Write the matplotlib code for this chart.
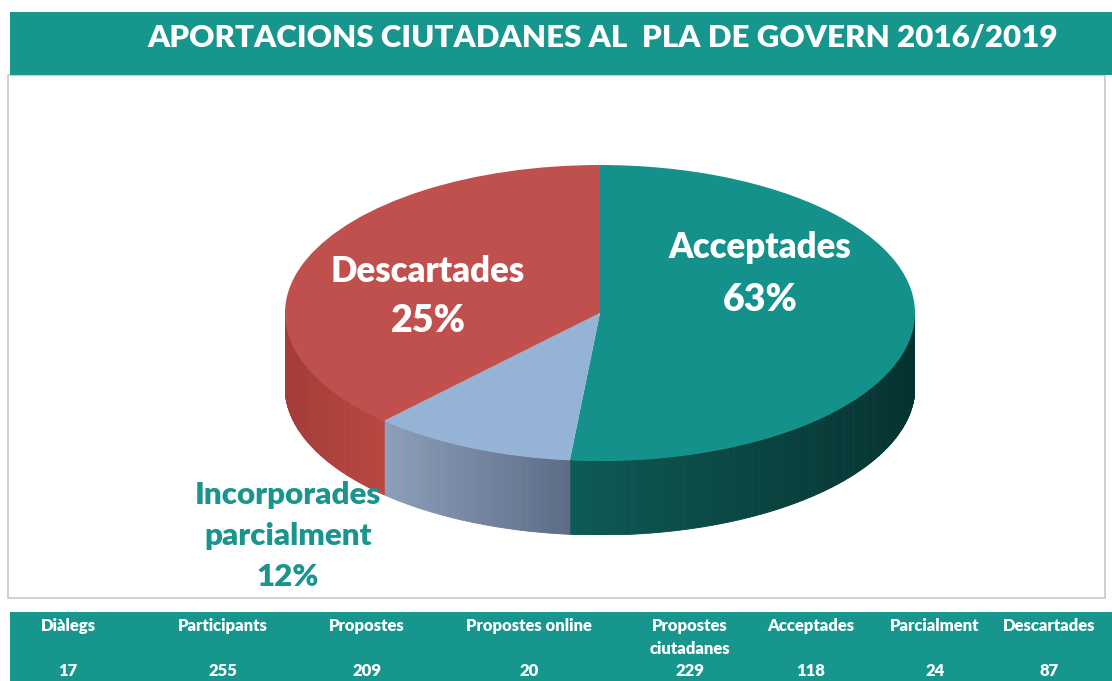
import matplotlib
matplotlib.use('Agg')
import matplotlib.pyplot as plt
import numpy as np
from matplotlib.patches import Rectangle, Polygon
from matplotlib.colors import to_rgb

# ---- data ----
title = 'APORTACIONS CIUTADANES AL  PLA DE GOVERN 2016/2019'
categories = ['Acceptades', 'Parcialment', 'Descartades']
values = [118, 24, 87]
slice_names = ['Acceptades', 'Incorporades\nparcialment', 'Descartades']
pct_labels = ['63%', '12%', '25%']
table_headers = ['Diàlegs', 'Participants', 'Propostes', 'Propostes online',
                 'Propostes\nciutadanes', 'Acceptades', 'Parcialment', 'Descartades']
table_values = [17, 255, 209, 20, 229, 118, 24, 87]

# ---- style ----
TEAL = '#17968e'
top_colors = ['#13918a', '#94b3d6', '#c0504d']
side_colors = [('#0d5a55', '#053230'), ('#8e9fba', '#5c6c86'), ('#a43c38', '#b9463f')]
FONT = 'Lato'

W, H = 1112, 681
fig = plt.figure(figsize=(W / 100, H / 100), dpi=100)
bg = fig.add_axes([0, 0, 1, 1])
bg.set_xlim(0, W)
bg.set_ylim(H, 0)
bg.axis('off')

# title bar
bg.add_patch(Rectangle((10, 12), W - 10, 63, facecolor=TEAL, edgecolor='none', zorder=1))
bg.text(603, 38, title, color='white', fontsize=22.5, fontweight='heavy', family=FONT,
        ha='center', va='center', zorder=3)
# chart area border
bg.add_patch(Rectangle((8, 75), 1097, 523, facecolor='white', edgecolor='#c8c8c8', lw=1.2, zorder=0))
# table bar
bg.add_patch(Rectangle((10, 612), W - 10, 80, facecolor=TEAL, edgecolor='none', zorder=1))
header_x = [68, 223, 367, 529, 690, 811, 935, 1049]
for x, h, v in zip(header_x, table_headers, table_values):
    bg.text(x, 618, h, color='white', fontsize=12, fontweight='heavy', family=FONT,
            ha='center', va='top', linespacing=1.5, zorder=3)
    bg.text(x, 679, str(v), color='white', fontsize=12, fontweight='heavy', family=FONT,
            ha='center', va='bottom', zorder=3)

# ---- 3D pie ----
cx0, cx1 = 285, 915
ty, by = 165, 461
depth_px = 74
ry = (by - ty) / 2
d = depth_px / ry
ax = fig.add_axes([cx0 / W, (H - by - depth_px) / H, (cx1 - cx0) / W, (by - ty + depth_px) / H])
wedges, _ = ax.pie(values, colors=top_colors, startangle=90, counterclock=False,
                   radius=1, wedgeprops=dict(linewidth=0, zorder=5))
ax.set_aspect('auto')
ax.set_xlim(-1, 1)
ax.set_ylim(-1 - d, 1)
ax.axis('off')

for w, (c0, c1) in zip(wedges, side_colors):
    t1, t2 = sorted((w.theta1, w.theta2))
    for k in (-1, 0, 1):
        lo = max(t1, -180 + 360 * k)
        hi = min(t2, 0 + 360 * k)
        if hi <= lo:
            continue
        xs_all = np.cos(np.radians([lo, hi]))
        xa, xb = xs_all.min(), xs_all.max()
        n = max(int((hi - lo) / 0.5), 2)
        angs = np.linspace(lo, hi, n + 1)
        for a, b in zip(angs[:-1], angs[1:]):
            ra, rb = np.radians(a), np.radians(b)
            xm = (np.cos(ra) + np.cos(rb)) / 2
            f = 0 if xb == xa else (xm - xa) / (xb - xa)
            col = tuple((1 - f) * np.array(to_rgb(c0)) + f * np.array(to_rgb(c1)))
            pts = [(np.cos(ra), np.sin(ra)), (np.cos(rb), np.sin(rb)),
                   (np.cos(rb), np.sin(rb) - d), (np.cos(ra), np.sin(ra) - d)]
            ax.add_patch(Polygon(pts, closed=True, facecolor=col, edgecolor=col,
                                 lw=0.6, zorder=2))

# labels on an overlay axes (above the pie)
ov = fig.add_axes([0, 0, 1, 1])
ov.set_xlim(0, W)
ov.set_ylim(H, 0)
ov.axis('off')
ov.patch.set_alpha(0)
name_kw = dict(fontsize=25, fontweight='heavy', family=FONT, ha='center', va='center', zorder=10)
pct_kw = dict(fontsize=27, fontweight='heavy', family=FONT, ha='center', va='center', zorder=10)
ov.text(760, 247, slice_names[0], color='white', **name_kw)
ov.text(760, 300, pct_labels[0], color='white', **pct_kw)
ov.text(428, 272, slice_names[2], color='white', **name_kw)
ov.text(428, 321, pct_labels[2], color='white', **pct_kw)
small_kw = dict(fontsize=22.5, fontweight='heavy', family=FONT, ha='center', va='center', zorder=10)
for i, line in enumerate(slice_names[1].split('\n') + [pct_labels[1]]):
    ov.text(288, 495 + 41 * i, line, color='#1a948c', **small_kw)

fig.savefig('out.png', dpi=100)
